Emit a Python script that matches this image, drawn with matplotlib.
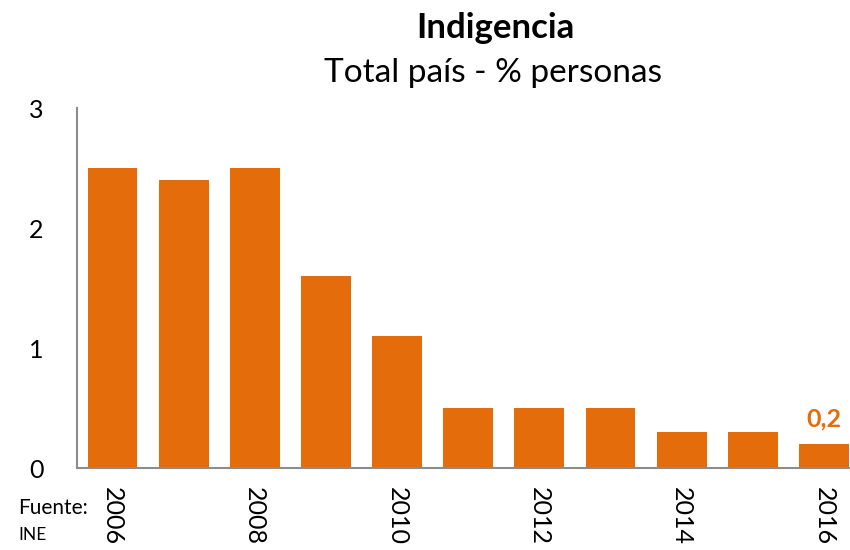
import matplotlib
matplotlib.use("Agg")
import matplotlib.pyplot as plt

plt.rcParams['font.family'] = ['Lato', 'DejaVu Sans']

years = [2006, 2007, 2008, 2009, 2010, 2011, 2012, 2013, 2014, 2015, 2016]
values = [2.5, 2.4, 2.5, 1.6, 1.1, 0.5, 0.5, 0.5, 0.3, 0.3, 0.2]
tick_years = [2006, 2008, 2010, 2012, 2014, 2016]
last_label = "0,2"

orange = "#E46C0A"

fig = plt.figure(figsize=(8.5, 5.5), dpi=100)
ax = fig.add_axes([77 / 850, 82 / 550, 782.5 / 850, 360 / 550])

x = list(range(len(years)))
ax.bar(x, values, width=0.7, color=orange)
ax.set_xlim(-0.5, len(years) - 0.5)
ax.set_ylim(0, 3)
ax.set_yticks([0, 1, 2, 3])
ax.set_yticklabels(["0", "1", "2", "3"], fontsize=18)

ax.set_xticks([years.index(y) for y in tick_years])
ax.set_xticklabels([str(y) for y in tick_years], rotation=270, fontsize=18, va="top")
ax.tick_params(length=0, pad=14)
ax.tick_params(axis="y", pad=24)

for s in ["top", "right"]:
    ax.spines[s].set_visible(False)
for s in ["left", "bottom"]:
    ax.spines[s].set_color("#8c8c8c")
    ax.spines[s].set_linewidth(1.5)

ax.annotate(last_label, (x[-1], values[-1]), xytext=(0, 10), textcoords="offset points",
            ha="center", va="bottom", fontsize=18, fontweight="bold", color=orange)

fig.text(495 / 850, 1 - 28 / 550, "Indigencia", ha="center", va="center",
         fontsize=25, fontweight="bold")
fig.text(493 / 850, 1 - 73 / 550, "Total país - % personas", ha="center", va="center",
         fontsize=24)
fig.text(18 / 850, 1 - 508 / 550, "Fuente:", ha="left", va="center", fontsize=15)
fig.text(18 / 850, 1 - 535 / 550, "INE", ha="left", va="center", fontsize=12.5)

fig.savefig("out.png", dpi=100)
